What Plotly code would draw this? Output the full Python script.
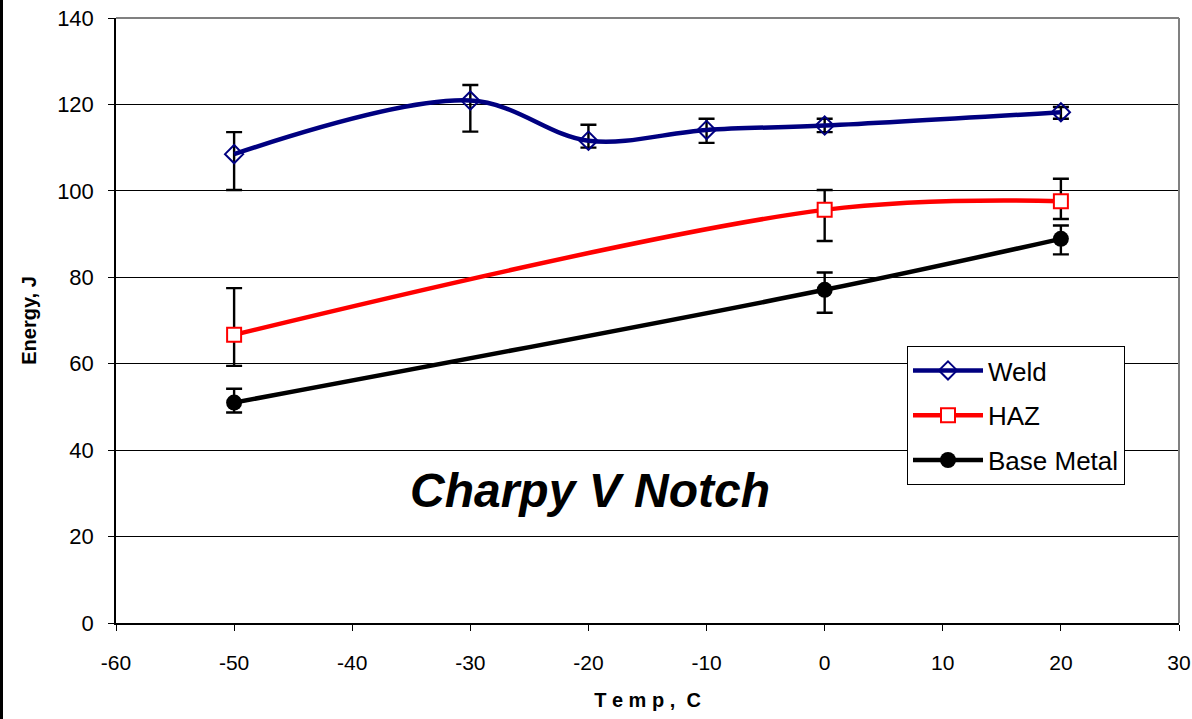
import plotly.graph_objects as go

temps_weld = [-50, -30, -20, -10, 0, 20]
weld = [108.5, 120.9, 111.6, 114.1, 115.1, 118.2]
weld_plus = [5.1, 3.6, 3.7, 2.6, 1.6, 1.2]
weld_minus = [8.3, 7.2, 1.6, 3.0, 1.5, 1.5]

temps_haz = [-50, 0, 20]
haz = [66.7, 95.6, 97.6]
haz_plus = [10.8, 4.6, 5.2]
haz_minus = [7.2, 7.2, 4.1]

temps_base = [-50, 0, 20]
base = [51.0, 77.1, 88.9]
base_plus = [3.2, 4.0, 3.1]
base_minus = [2.3, 5.3, 3.6]

x_tickvals = [-60, -50, -40, -30, -20, -10, 0, 10, 20, 30]
x_ticktext = ["-60", "-50", "-40", "-30", "-20", "-10", "0", "10", "20", "30"]
y_tickvals = [0, 20, 40, 60, 80, 100, 120, 140]
y_ticktext = ["0", "20", "40", "60", "80", "100", "120", "140"]

FONT = "Arial, Liberation Sans, sans-serif"

fig = go.Figure()

def add(name, xs, ys, plus, minus, color, symbol, msize, mcolor, mline, group):
    fig.add_trace(go.Scatter(
        x=xs, y=ys, name=name, mode="lines+markers",
        line=dict(color=color, width=4.5, shape="spline", smoothing=1),
        marker=dict(symbol=symbol, size=msize, color=mcolor,
                    line=dict(color=color, width=mline)),
        error_y=dict(type="data", array=plus, arrayminus=minus,
                     color="black", thickness=2.4, width=8, symmetric=False),
        legendgroup=group,
    ))

add("Weld", temps_weld, weld, weld_plus, weld_minus, "#000080", "diamond-open", 14, "#000080", 2, "a")
add("HAZ", temps_haz, haz, haz_plus, haz_minus, "#FF0000", "square", 14, "white", 2, "b")
add("Base Metal", temps_base, base, base_plus, base_minus, "#000000", "circle", 16, "#000000", 0, "c")

fig.update_layout(
    width=1192, height=719,
    margin=dict(l=116, r=13, t=18, b=96, autoexpand=False),
    paper_bgcolor="white", plot_bgcolor="white",
    font=dict(family=FONT, color="black"),
    showlegend=True,
    legend=dict(x=(907 - 116) / 1063, y=(623 - 346) / 605, xanchor="left", yanchor="top",
                bordercolor="black", borderwidth=1, bgcolor="white",
                font=dict(size=26, family=FONT), tracegroupgap=8,
                itemwidth=70),
    xaxis=dict(range=[-60, 30], tickvals=x_tickvals, ticktext=x_ticktext,
               showgrid=False, zeroline=False, automargin=False,
               showline=True, linecolor="black", linewidth=2,
               ticks="outside", ticklen=6, tickcolor="black", ticklabelstandoff=14,
               tickfont=dict(size=21, family=FONT),
               title=dict(text="<b>T e m p ,  C</b>", font=dict(size=20, family=FONT), standoff=20)),
    yaxis=dict(range=[0, 140], tickvals=y_tickvals, ticktext=y_ticktext,
               showgrid=True, gridcolor="black", gridwidth=1, automargin=False,
               zeroline=False, showline=True, linecolor="black", linewidth=1.5,
               ticks="outside", ticklen=6, tickcolor="black", ticklabelstandoff=10,
               tickfont=dict(size=22, family=FONT),
               title=dict(text="<b>Energy, J</b>", font=dict(size=20, family=FONT), standoff=15)),
    shapes=[
        dict(type="rect", xref="x", yref="y", x0=-37.2, x1=-2.5, y0=20.4, y1=39.7,
             fillcolor="white", line=dict(width=0), layer="above"),
        dict(type="line", xref="paper", yref="paper", x0=0, x1=1, y0=1, y1=1,
             line=dict(color="#808080", width=2), layer="above"),
        dict(type="line", xref="paper", yref="paper", x0=1, x1=1, y0=0, y1=1,
             line=dict(color="#808080", width=2), layer="above"),
        dict(type="rect", xref="paper", yref="paper", x0=-116/1063, x1=-113/1063,
             y0=-96/605, y1=(605 + 18) / 605, fillcolor="black", line=dict(width=0),
             layer="above"),
    ],
    annotations=[
        dict(text="<b><i>Charpy V Notch</i></b>", xref="paper", yref="paper",
             x=(590 - 116) / 1063, y=(623 - 490) / 605, xanchor="center", yanchor="middle",
             showarrow=False, font=dict(size=48, family=FONT, color="black")),
    ],
)

fig.write_html("out.html")
